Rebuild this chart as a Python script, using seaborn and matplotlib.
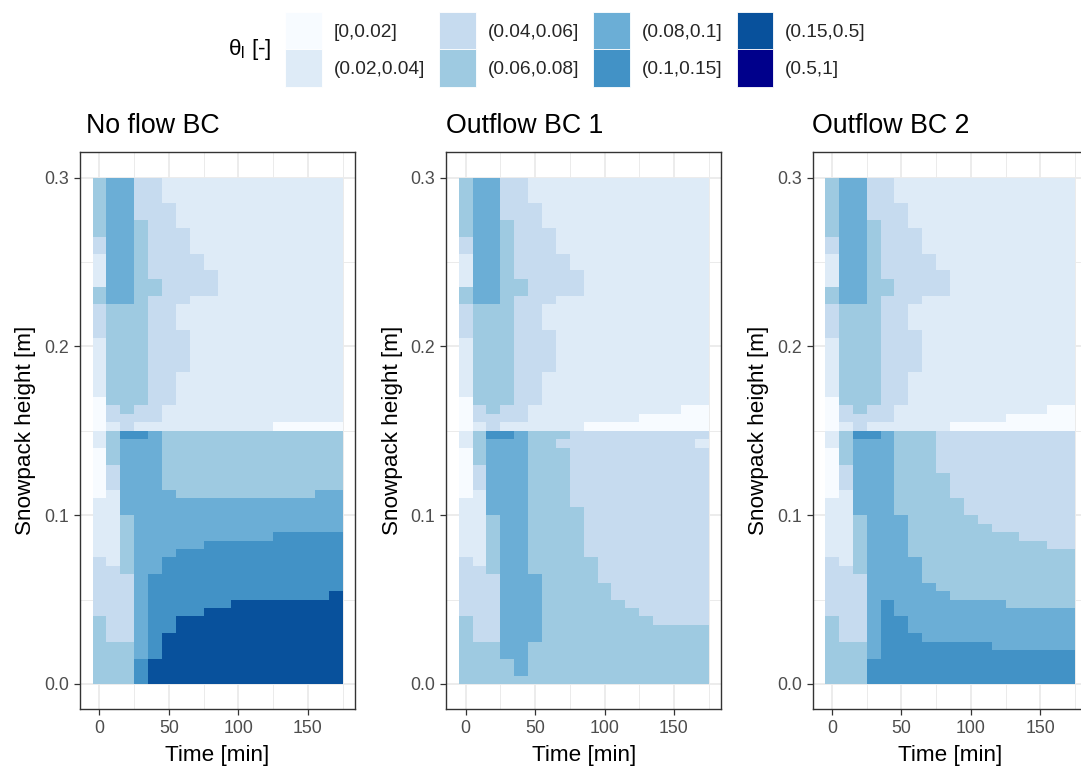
import numpy as np
import pandas as pd
import seaborn as sns
import matplotlib
matplotlib.use("Agg")
import matplotlib.pyplot as plt
from matplotlib.colors import ListedColormap
from matplotlib.patches import Patch

# Liquid water content classes and their fill colours
theta_bins = ["[0,0.02]", "(0.02,0.04]", "(0.04,0.06]", "(0.06,0.08]",
              "(0.08,0.1]", "(0.1,0.15]", "(0.15,0.5]", "(0.5,1]"]
theta_colors = ["#F7FBFF", "#DEEBF7", "#C6DBEF", "#9ECAE1",
                "#6BAED6", "#4292C6", "#08519C", "#00008B"]

# Output times (cell centres, min) and layer geometry (m)
time_min = [0, 10, 20, 30, 40, 50, 60, 70, 80, 90,
            100, 110, 120, 130, 140, 150, 160, 170]
cell_dz = 0.005
snow_depth = 0.3

panel_titles = ["No flow BC", "Outflow BC 1", "Outflow BC 2"]
x_ticks = [0, 50, 100, 150]
x_minor = [25, 75, 125, 175]
y_ticks = [0.0, 0.1, 0.2, 0.3]
y_minor = [0.05, 0.15, 0.25]

# Class index of every cell (0 = [0,0.02] ... 7 = (0.5,1]),
# one string per row from the snow surface downwards, one digit per output time.
# Upper layer: 0.30 - 0.15 m
upper_noflow = [
    "344221111111111111", "344221111111111111", "344221111111111111",
    "344222111111111111", "344222111111111111", "344322111111111111",
    "344322211111111111", "244322211111111111", "244322211111111111",
    "144322221111111111", "144322221111111111", "144322222111111111",
    "144332222111111111", "344332222111111111", "344322211111111111",
    "233322111111111111", "233322111111111111", "233322111111111111",
    "233322211111111111", "133322211111111111", "133322211111111111",
    "133322211111111111", "133322211111111111", "133322111111111111",
    "133322111111111111", "133322111111111111", "033322111111111111",
    "023221111111111111", "022221111111111111", "012111111111100000",
]
upper_outflow = upper_noflow[:27] + [
    "023221111111111100", "022221111111100000", "012111111000000000",
]
# Lower layer: 0.15 - 0.00 m
lower_noflow = [
    "135543333333333333", "134443333333333333", "034443333333333333",
    "034443333333333333", "024443333333333333", "024443333333333333",
    "024443333333333333", "014444333333333344", "114444444444444444",
    "114444444444444444", "113444444444444444", "113444444444444444",
    "113444444444455555", "113444445555555555", "113444555555555555",
    "213445555555555555", "223445555555555555", "222455555555555555",
    "222455555555555555", "222455555555555556", "222455555566666666",
    "222455556666666666", "322455666666666666", "322455666666666666",
    "322456666666666666", "333456666666666666", "333456666666666666",
    "333566666666666666", "333566666666666666", "333566666666666666",
]
lower_outflow1 = [
    "135543332222222222", "134443322222222221", "034443332222222222",
    "034443332222222222", "024443332222222222", "024443332222222222",
    "024443332222222222", "014443332222222222", "114443332222222222",
    "114443333222222222", "113443333222222222", "113443333222222222",
    "113443333222222222", "113443333222222222", "113443333222222222",
    "213443333322222222", "223443333322222222", "222444333322222222",
    "222444333332222222", "222444333332222222", "222444333333222222",
    "222444333333322222", "322444333333332222", "322444333333333333",
    "322444333333333333", "333443333333333333", "333443333333333333",
    "333343333333333333", "333343333333333333", "333333333333333333",
]
lower_outflow2 = [
    "135543332222222222", "134443332222222222", "034443332222222222",
    "034443332222222222", "024443332222222222", "024443333222222222",
    "024443333222222222", "014443333222222222", "114443333322222222",
    "114443333322222222", "113444333332222222", "113444333333222222",
    "113444333333332222", "113444333333333322", "113444333333333333",
    "213444433333333333", "223444433333333333", "222444433333333333",
    "222444443333333333", "222444444333333333", "222454444444433333",
    "222454444444444444", "322455444444444444", "322455444444444444",
    "322455544444444444", "333455555555444444", "333455555555555555",
    "333555555555555555", "333555555555555555", "333555555555555555",
]

panel_rows = [upper_noflow + lower_noflow,
              upper_outflow + lower_outflow1,
              upper_outflow + lower_outflow2]

n_rows = len(panel_rows[0])
heights = np.round(snow_depth - cell_dz * (np.arange(n_rows) + 0.5), 4)


def class_grid(rows):
    codes = [[int(c) for c in r] for r in rows]
    return pd.DataFrame(codes, index=heights, columns=time_min)


dt = time_min[1] - time_min[0]


def x_pos(t):
    # heatmap column centre for a time value
    return (np.asarray(t, dtype=float) - time_min[0]) / dt + 0.5


def y_pos(h):
    # heatmap row coordinate for a height value (rows counted from the top)
    return (snow_depth - np.asarray(h, dtype=float)) / cell_dz


sns.set_style("white")
plt.rcParams["font.family"] = ["Liberation Sans", "DejaVu Sans"]
plt.rcParams["mathtext.fontset"] = "custom"
plt.rcParams["mathtext.rm"] = "Liberation Sans"

W, H = 1081, 772
fig = plt.figure(figsize=(W / 100, H / 100), dpi=100)

cmap = ListedColormap(theta_colors)

TICK_FS, AXIS_FS, TITLE_FS, LEG_FS = 12.8, 16.2, 19.3, 13.8

ax_left_px = [80, 446.2, 812.5]
ax_w_px = 275
ax_top_px, ax_bot_px = 152.3, 709.3
title_off_px = [6, 0, 0]

t_lo, t_hi = time_min[0] - dt / 2, time_min[-1] + dt / 2
t_pad = 0.05 * (t_hi - t_lo)
h_pad = 0.05 * snow_depth

for i, rows in enumerate(panel_rows):
    ax = fig.add_axes([ax_left_px[i] / W, 1 - ax_bot_px / H,
                       ax_w_px / W, (ax_bot_px - ax_top_px) / H])
    grid = class_grid(rows)
    sns.heatmap(grid, ax=ax, cmap=cmap, vmin=-0.5, vmax=len(theta_colors) - 0.5,
                cbar=False, xticklabels=False, yticklabels=False, linewidths=0)

    ax.set_xlim(x_pos(t_lo - t_pad), x_pos(t_hi + t_pad))
    ax.set_ylim(y_pos(-h_pad), y_pos(snow_depth + h_pad))

    ax.set_xticks(x_pos(x_ticks))
    ax.set_xticklabels([str(v) for v in x_ticks])
    ax.set_xticks(x_pos(x_minor), minor=True)
    ax.set_yticks(y_pos(y_ticks))
    ax.set_yticklabels([f"{v:.1f}" for v in y_ticks])
    ax.set_yticks(y_pos(y_minor), minor=True)

    ax.set_axisbelow(True)
    ax.grid(which="major", color="#EBEBEB", lw=1.3)
    ax.grid(which="minor", color="#EBEBEB", lw=0.7)
    ax.tick_params(which="major", axis="both", length=4.3, width=0.9,
                   color="#333333", labelsize=TICK_FS, labelcolor="#4D4D4D",
                   pad=3.5, bottom=True, left=True, top=False, right=False)
    ax.tick_params(which="minor", length=0)
    for lab in ax.get_yticklabels():
        lab.set_rotation(0)
    for s in ax.spines.values():
        s.set_visible(True)
        s.set_color("#333333")
        s.set_linewidth(1.0)

    ax.set_xlabel("Time [min]", fontsize=AXIS_FS, color="black")
    ax.set_ylabel("Snowpack height [m]", fontsize=AXIS_FS, color="black")
    ax.xaxis.set_label_coords(0.5, -(745 - ax_bot_px) / (ax_bot_px - ax_top_px))
    ax.xaxis.label.set_verticalalignment("top")
    ax.yaxis.set_label_coords(-54 / ax_w_px, 0.5)
    ax.yaxis.label.set_verticalalignment("center")

    ax.text(title_off_px[i] / ax_w_px, 1 + 19 / (ax_bot_px - ax_top_px),
            panel_titles[i], transform=ax.transAxes, ha="left",
            va="baseline", fontsize=TITLE_FS, color="black")

handles = [Patch(facecolor=c, edgecolor="white", linewidth=0.6) for c in theta_colors]
fig.legend(handles, theta_bins, ncol=4, loc="upper left",
           bbox_to_anchor=(285 / W, 1 - 12 / H), frameon=False,
           fontsize=LEG_FS, handlelength=1.91, handleheight=2.63,
           handletextpad=0.63, columnspacing=0.73, labelspacing=0.0,
           borderpad=0, borderaxespad=0)
fig.text(228 / W, 1 - 50 / H, r"θ$_\mathregular{l}$ [-]", fontsize=AXIS_FS,
         ha="left", va="center", color="black")

fig.savefig("out.png", dpi=100)
